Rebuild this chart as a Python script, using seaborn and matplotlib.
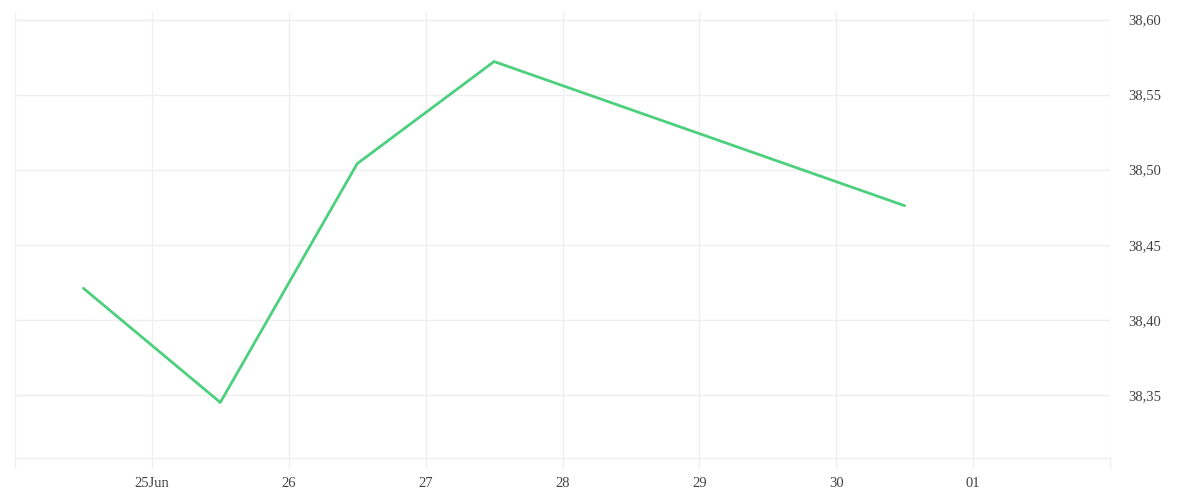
"""
Daily rate line chart, 24 Jun - 30 Jun
"""
import pandas as pd
import numpy as np
import matplotlib
matplotlib.use("Agg")
import matplotlib.pyplot as plt
import matplotlib.dates as mdates
import matplotlib.ticker as mticker
import seaborn as sns

# values (points sit at midday, weekend missing)
dates = ["2025-06-24 12:00", "2025-06-25 12:00", "2025-06-26 12:00",
         "2025-06-27 12:00", "2025-06-30 12:00"]
rates = [38.421, 38.345, 38.504, 38.572, 38.476]

day_ticks = pd.date_range("2025-06-24", "2025-07-02", freq="D")
day_labels = ["", "25Jun", "26", "27", "28", "29", "30", "01", ""]
y_ticks = [38.35, 38.40, 38.45, 38.50, 38.55, 38.60]

GRID = "#efefef"
LINE = "#4cd07d"
TEXT = "#444444"

df = pd.DataFrame({"date": pd.to_datetime(dates), "rate": rates})

sns.set_theme(style="white")
plt.rcParams["font.family"] = ["Liberation Serif", "DejaVu Serif"]

fig = plt.figure(figsize=(12, 5), dpi=100)
ax = fig.add_axes([0.0125, 0.084, 0.9125, 0.892])

sns.lineplot(data=df, x="date", y="rate", ax=ax, color=LINE, linewidth=2)

ax.set_xlim(day_ticks[0], day_ticks[-1])
ax.set_ylim(38.308, 38.605)

ax.set_xticks(day_ticks)
ax.set_xticklabels(day_labels)
ax.set_yticks(y_ticks)
ax.yaxis.set_major_formatter(mticker.FuncFormatter(lambda v, p: f"{v:.2f}".replace(".", ",")))
ax.yaxis.tick_right()

ax.grid(True, color=GRID, linewidth=1)
ax.set_axisbelow(True)
for side in ["top", "left", "right"]:
    ax.spines[side].set_visible(False)
ax.spines["bottom"].set_color(GRID)
ax.spines["bottom"].set_linewidth(1)

ax.tick_params(axis="x", length=7, width=1, color=GRID, pad=7,
               labelsize=10.5, labelcolor=TEXT, bottom=True)
ax.tick_params(axis="y", length=0, pad=13, labelsize=10.5, labelcolor=TEXT,
               right=True, left=False)

ax.set_xlabel("")
ax.set_ylabel("")

plt.savefig("out.png", dpi=100)
plt.close()
